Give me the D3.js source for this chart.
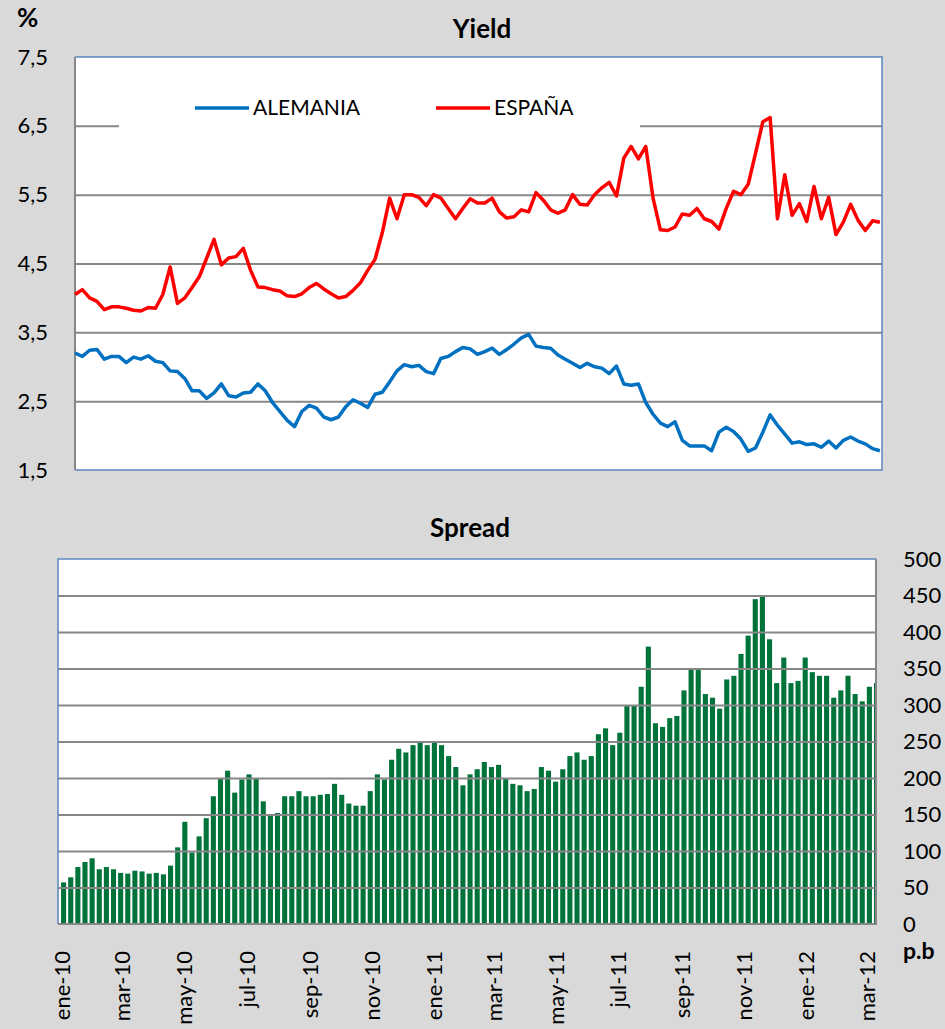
<!DOCTYPE html>
<html>
<head>
<meta charset="utf-8">
<script src="https://cdn.jsdelivr.net/npm/d3@7"></script>
<style>
  body { margin: 0; background: #d9d9d9; }
  svg { display: block; font-family: Lato, "Open Sans", sans-serif; }
</style>
</head>
<body>
<svg width="945" height="1029"></svg>
<script>
// weekly closes, top chart starts 1 Feb 2010, spread starts 4 Jan 2010
const yieldStart = "2010-02-01";
const spreadStart = "2010-01-04";

const alemania = [
  3.20, 3.15, 3.24, 3.25, 3.11, 3.15, 3.15, 3.06, 3.14, 3.11,
  3.16, 3.08, 3.06, 2.94, 2.93, 2.83, 2.65, 2.65, 2.54, 2.62,
  2.75, 2.58, 2.56, 2.62, 2.63, 2.75, 2.65, 2.48, 2.35, 2.22,
  2.13, 2.35, 2.44, 2.40, 2.27, 2.23, 2.27, 2.42, 2.52, 2.47,
  2.41, 2.60, 2.63, 2.78, 2.94, 3.03, 3.00, 3.02, 2.93, 2.90,
  3.12, 3.15, 3.22, 3.28, 3.26, 3.18, 3.22, 3.27, 3.18, 3.25,
  3.33, 3.42, 3.47, 3.30, 3.28, 3.27, 3.17, 3.11, 3.05, 2.99,
  3.05, 3.00, 2.98, 2.90, 3.01, 2.75, 2.73, 2.75, 2.48, 2.31,
  2.18, 2.13, 2.20, 1.93, 1.85, 1.85, 1.85, 1.78, 2.05, 2.12,
  2.06, 1.95, 1.77, 1.82, 2.05, 2.30, 2.15, 2.02, 1.89, 1.91,
  1.87, 1.88, 1.83, 1.92, 1.82, 1.93, 1.98, 1.92, 1.88, 1.81,
  1.78
];

const espana = [
  4.05, 4.12, 4.00, 3.95, 3.83, 3.87, 3.87, 3.85, 3.82, 3.81,
  3.86, 3.85, 4.05, 4.45, 3.92, 4.00, 4.15, 4.31, 4.58, 4.85,
  4.48, 4.58, 4.60, 4.72, 4.40, 4.16, 4.15, 4.12, 4.10, 4.03,
  4.02, 4.06, 4.15, 4.21, 4.13, 4.06, 4.00, 4.02, 4.11, 4.22,
  4.40, 4.56, 4.95, 5.45, 5.15, 5.50, 5.50, 5.46, 5.34, 5.50,
  5.45, 5.30, 5.15, 5.30, 5.44, 5.38, 5.38, 5.45, 5.25, 5.16,
  5.18, 5.28, 5.25, 5.53, 5.42, 5.28, 5.23, 5.28, 5.50, 5.36,
  5.35, 5.50, 5.60, 5.68, 5.48, 6.03, 6.20, 6.02, 6.20, 5.45,
  4.99, 4.98, 5.03, 5.22, 5.20, 5.30, 5.15, 5.11, 5.00, 5.30,
  5.55, 5.50, 5.65, 6.10, 6.56, 6.62, 5.15, 5.79, 5.20, 5.37,
  5.11, 5.62, 5.15, 5.46, 4.92, 5.10, 5.36, 5.13, 4.98, 5.12,
  5.10
];

const spread = [
  57, 64, 78, 85, 90, 75, 78, 75, 70, 69,
  73, 72, 69, 70, 68, 80, 105, 140, 98, 120,
  145, 175, 200, 210, 180, 198, 205, 200, 168, 148,
  152, 175, 175, 182, 175, 175, 177, 178, 192, 177,
  165, 162, 162, 182, 205, 198, 225, 240, 235, 245,
  250, 245, 248, 245, 230, 215, 190, 205, 212, 222,
  215, 218, 200, 192, 190, 182, 185, 215, 210, 195,
  212, 230, 235, 225, 230, 260, 268, 245, 262, 300,
  300, 325, 380, 275, 270, 282, 285, 320, 350, 350,
  315, 310, 295, 335, 340, 370, 395, 445, 450, 390,
  330, 365, 330, 333, 365, 345, 340, 340, 310, 320,
  340, 315, 305, 325, 330
];

const yieldTicks = [1.5, 2.5, 3.5, 4.5, 5.5, 6.5, 7.5];
const spreadTicks = [0, 50, 100, 150, 200, 250, 300, 350, 400, 450, 500];
const monthTicks = ["2010-01-01", "2010-03-01", "2010-05-01", "2010-07-01", "2010-09-01", "2010-11-01",
  "2011-01-01", "2011-03-01", "2011-05-01", "2011-07-01", "2011-09-01", "2011-11-01",
  "2012-01-01", "2012-03-01"];
const monthLabels = ["ene-10", "mar-10", "may-10", "jul-10", "sep-10", "nov-10",
  "ene-11", "mar-11", "may-11", "jul-11", "sep-11", "nov-11", "ene-12", "mar-12"];

const parse = d3.timeParse("%Y-%m-%d");
const weeksFrom = (start, n) => d3.range(n).map(i => d3.timeDay.offset(parse(start), 7 * i));
const yieldWeeks = weeksFrom(yieldStart, espana.length);
const spreadWeeks = weeksFrom(spreadStart, spread.length);

const svg = d3.select("svg");
const grey = "#878787";
const frame = "#5b87c0";
const comma = d3.formatLocale({ decimal: ",", thousands: ".", grouping: [3], currency: ["", "€"] }).format(".1f");

// ---------- Yield ----------
const t = { left: 75, right: 882, top: 57, bottom: 470 };
const x1 = d3.scaleTime().domain([parse("2010-02-01"), parse("2012-03-14")]).range([t.left, t.right]);
const y1 = d3.scaleLinear().domain([1.5, 7.5]).range([t.bottom, t.top]);

svg.append("rect")
  .attr("x", t.left).attr("y", t.top)
  .attr("width", t.right - t.left).attr("height", t.bottom - t.top)
  .attr("fill", "#fff");

svg.append("g")
  .attr("transform", `translate(${t.left},0)`)
  .call(d3.axisLeft(y1).tickValues(yieldTicks.slice(1, -1)).tickSize(-(t.right - t.left)).tickFormat(""))
  .call(g => g.select(".domain").remove())
  .selectAll("line").attr("stroke", grey).attr("stroke-width", 2);

// legend box hides part of the 6,5 gridline
svg.append("rect").attr("x", 119).attr("y", 88).attr("width", 521).attr("height", 46).attr("fill", "#fff");

svg.append("path")
  .attr("d", `M${t.left},${t.top}H${t.right}V${t.bottom}H${t.left}`)
  .attr("fill", "none").attr("stroke", frame).attr("stroke-width", 1.5);
svg.append("line")
  .attr("x1", t.left).attr("x2", t.left).attr("y1", t.top).attr("y2", t.bottom)
  .attr("stroke", grey).attr("stroke-width", 2);

const yAxis = svg.append("g")
  .attr("transform", `translate(${t.left},0)`)
  .call(d3.axisLeft(y1).tickValues(yieldTicks).tickSize(0).tickPadding(27).tickFormat(comma));
yAxis.select(".domain").remove();
yAxis.selectAll("text").attr("font-size", 22).attr("fill", "#000").attr("font-family", "Lato, sans-serif");

const line = d3.line().x((d, i) => x1(yieldWeeks[i])).y(d => y1(d));
svg.append("path").datum(alemania)
  .attr("d", line).attr("fill", "none").attr("stroke", "#0070c0")
  .attr("stroke-width", 3.5).attr("stroke-linejoin", "round");
svg.append("path").datum(espana)
  .attr("d", line).attr("fill", "none").attr("stroke", "#ff0000")
  .attr("stroke-width", 3.5).attr("stroke-linejoin", "round");

const legend = [
  { name: "ALEMANIA", color: "#0070c0", x: 195 },
  { name: "ESPAÑA", color: "#ff0000", x: 436 }
];
const lg = svg.append("g").selectAll("g").data(legend).join("g")
  .attr("transform", d => `translate(${d.x},108)`);
lg.append("line").attr("x1", 0).attr("x2", 54).attr("stroke", d => d.color).attr("stroke-width", 3.5);
lg.append("text").attr("x", 58).attr("dy", "0.35em").attr("font-size", 21).text(d => d.name);

svg.append("text").attr("x", 17).attr("y", 27).attr("font-size", 26).attr("font-weight", "bold").text("%");
svg.append("text").attr("x", 482).attr("y", 38).attr("text-anchor", "middle")
  .attr("font-size", 26).attr("font-weight", "bold").text("Yield");

// ---------- Spread ----------
const b = { left: 58, right: 876, top: 559, bottom: 924 };
const x2 = d3.scaleTime().domain([parse("2010-01-01"), parse("2012-03-14")]).range([b.left, b.right]);
const y2 = d3.scaleLinear().domain([0, 500]).range([b.bottom, b.top]);

svg.append("rect")
  .attr("x", b.left).attr("y", b.top)
  .attr("width", b.right - b.left).attr("height", b.bottom - b.top)
  .attr("fill", "#fff");

svg.append("clipPath").attr("id", "clip2")
  .append("rect").attr("x", b.left).attr("y", b.top)
  .attr("width", b.right - b.left).attr("height", b.bottom - b.top);

svg.append("g").attr("clip-path", "url(#clip2)")
  .selectAll("rect").data(spread).join("rect")
  .attr("x", (d, i) => x2(spreadWeeks[i]))
  .attr("width", (d, i) => x2(d3.timeDay.offset(spreadWeeks[i], 5)) - x2(spreadWeeks[i]))
  .attr("y", d => y2(d))
  .attr("height", d => y2(0) - y2(d))
  .attr("fill", "#00733a");

svg.append("g")
  .attr("transform", `translate(${b.left},0)`)
  .call(d3.axisLeft(y2).tickValues(spreadTicks.slice(1, -1)).tickSize(-(b.right - b.left)).tickFormat(""))
  .call(g => g.select(".domain").remove())
  .selectAll("line").attr("stroke", grey).attr("stroke-width", 2);

svg.append("path")
  .attr("d", `M${b.left},${b.bottom}V${b.top}H${b.right}`)
  .attr("fill", "none").attr("stroke", frame).attr("stroke-width", 1.5);
svg.append("path")
  .attr("d", `M${b.right},${b.top}V${b.bottom}H${b.left}`)
  .attr("fill", "none").attr("stroke", grey).attr("stroke-width", 2);

const rAxis = svg.append("g")
  .attr("transform", `translate(${b.right},0)`)
  .call(d3.axisRight(y2).tickValues(spreadTicks).tickSize(0).tickPadding(27).tickFormat(d3.format("d")));
rAxis.select(".domain").remove();
rAxis.selectAll("text").attr("font-size", 22).attr("fill", "#000").attr("font-family", "Lato, sans-serif");

const xAxis = svg.append("g")
  .attr("transform", `translate(4,${b.bottom})`)
  .call(d3.axisBottom(x2).tickValues(monthTicks.map(parse)).tickSize(0)
    .tickFormat((d, i) => monthLabels[i]));
xAxis.select(".domain").remove();
xAxis.selectAll("text")
  .attr("font-size", 22).attr("fill", "#000").attr("font-family", "Lato, sans-serif")
  .attr("transform", "rotate(-90)")
  .attr("x", -27).attr("y", 0).attr("dy", "0.35em")
  .attr("text-anchor", "end");

svg.append("text").attr("x", 903).attr("y", 959).attr("font-size", 23).attr("font-weight", "bold").text("p.b");
svg.append("text").attr("x", 470).attr("y", 537).attr("text-anchor", "middle")
  .attr("font-size", 26).attr("font-weight", "bold").text("Spread");
</script>
</body>
</html>
